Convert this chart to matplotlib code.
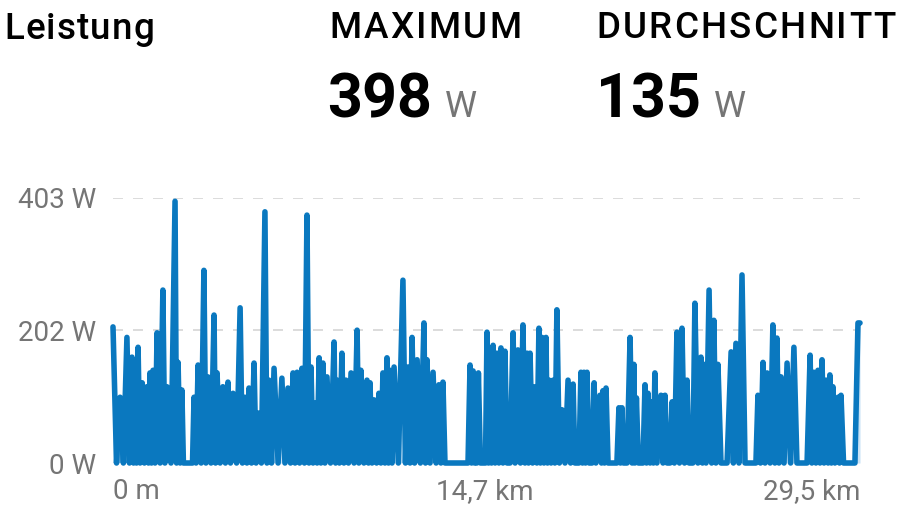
import matplotlib
matplotlib.use("Agg")
import matplotlib.pyplot as plt
from matplotlib.font_manager import FontProperties

# distance along the ride (km) and power (W)
dist_km = [
    0.00, 0.14, 0.28, 0.41, 0.55, 0.65, 0.75, 0.81, 0.87, 0.93, 0.99, 1.07, 1.15, 1.24,
    1.34, 1.40, 1.46, 1.52, 1.58, 1.66, 1.74, 1.86, 1.97, 2.05, 2.13, 2.29, 2.45, 2.51,
    2.57, 2.65, 2.72, 2.78, 3.14, 3.20, 3.28, 3.36, 3.48, 3.59, 3.67, 3.75, 3.87, 3.99,
    4.05, 4.11, 4.23, 4.34, 4.44, 4.54, 4.64, 4.74, 4.88, 5.02, 5.11, 5.21, 5.29, 5.37,
    5.47, 5.57, 5.65, 5.73, 5.86, 6.00, 6.08, 6.16, 6.26, 6.36, 6.52,
    6.67, 6.79, 6.91, 7.01, 7.11, 7.19, 7.27, 7.37, 7.46, 7.56, 7.66, 7.74, 7.82, 7.90,
    7.98, 8.06, 8.14, 8.21, 8.29, 8.37, 8.45, 8.59, 8.73, 8.79, 8.85, 8.94, 9.04, 9.12,
    9.20, 9.30, 9.40, 9.52, 9.64, 9.71, 9.79, 9.91, 10.03, 10.09, 10.15, 10.23, 10.31,
    10.41, 10.50, 10.58, 10.66, 10.74, 10.82, 10.88, 10.94, 11.02, 11.10, 11.27, 11.45,
    11.55, 11.65, 11.73, 11.81, 11.91, 12.01, 12.14, 12.28, 12.34, 12.40, 12.52, 12.64,
    12.76, 12.87, 12.95, 13.03, 13.11, 14.02,
    14.10, 14.16, 14.22, 14.28, 14.34, 14.37, 14.43, 14.51, 14.71, 14.77, 14.83, 14.89,
    14.95, 15.01, 15.09, 15.16, 15.24, 15.32, 15.40, 15.48, 15.56, 15.68, 15.80, 15.88,
    15.99, 16.09, 16.19, 16.27, 16.35, 16.41, 16.47, 16.57, 16.67, 16.74, 16.82, 16.88,
    16.94, 17.02, 17.10, 17.16, 17.22, 17.30, 17.38, 17.45, 17.53, 17.63, 17.73, 17.85,
    17.97, 18.07, 18.17, 18.24, 18.40, 18.48, 18.54, 18.60, 18.66, 18.72, 18.80, 18.92,
    19.00, 19.07, 19.23, 19.29, 19.35, 19.41, 19.47, 19.55, 19.90, 19.98, 20.04, 20.10,
    20.16, 20.30, 20.42, 20.50, 20.57, 20.61, 20.67, 20.75, 20.93, 21.01, 21.07, 21.13,
    21.21,
    21.29, 21.34, 21.40, 21.48, 21.64, 21.72, 21.80, 21.88, 22.00, 22.08, 22.17, 22.27,
    22.37, 22.47, 22.57, 22.67, 22.75, 22.90, 22.98, 23.10, 23.22, 23.28, 23.34, 23.42,
    23.54, 23.64, 23.73, 23.81, 23.89, 24.01, 24.25, 24.41, 24.50, 24.60, 24.72, 24.84,
    24.96, 25.39, 25.47, 25.57, 25.67, 25.75, 25.83, 25.95, 26.06, 26.14, 26.22, 26.30,
    26.38, 26.50, 26.62, 26.76, 26.89, 27.01, 27.41, 27.53, 27.60, 27.68, 27.76, 27.84,
    27.92, 28.00, 28.08, 28.16, 28.24, 28.31, 28.37, 28.43, 28.51, 28.63, 28.69, 28.75,
    28.85, 29.30, 29.42, 29.50,
]
power_w = [
    207, 0, 100, 0, 191, 0, 161, 0, 146, 0, 176, 0, 122, 0,
    116, 0, 137, 0, 141, 0, 198, 0, 263, 0, 116, 0, 398, 0,
    153, 0, 111, 0, 0, 100, 0, 149, 0, 293, 0, 131, 0, 225,
    0, 137, 0, 116, 0, 123, 0, 106, 0, 236, 0, 100, 0, 114,
    0, 152, 0, 76, 0, 382, 0, 126, 0, 144, 0,
    129, 0, 114, 0, 137, 0, 138, 0, 144, 0, 377, 0, 146, 0,
    91, 0, 160, 0, 152, 0, 131, 0, 184, 0, 126, 0, 167, 0,
    126, 0, 137, 0, 202, 0, 141, 0, 126, 0, 122, 0, 96,
    0, 106, 0, 137, 0, 160, 0, 141, 0, 146, 0, 278,
    0, 146, 0, 191, 0, 157, 0, 213, 0, 157, 0, 138,
    0, 119, 0, 123, 0, 0,
    149, 0, 140, 0, 122, 0, 137, 0, 0, 199, 0, 167,
    0, 179, 0, 167, 0, 175, 0, 170, 0, 0, 198, 0,
    172, 0, 210, 0, 167, 0, 167, 0, 116, 0, 205, 0,
    191, 0, 191, 0, 126, 0, 126, 0, 233, 0, 81, 0,
    126, 0, 120, 0, 0, 138, 0, 138, 0, 138, 0, 0,
    122, 0, 103, 0, 110, 0, 114, 0, 0, 84, 0, 84,
    0, 0, 191, 0, 150, 0, 99, 0, 0, 119, 0, 106,
    0,
    93, 0, 137, 0, 103, 0, 103, 0, 0, 93, 0, 199,
    0, 205, 0, 126, 0, 0, 243, 0, 161, 0, 150, 0,
    263, 0, 217, 0, 150, 0, 0, 169, 0, 182, 0, 286,
    0, 0, 103, 0, 153, 0, 137, 0, 210, 0, 190, 0,
    131, 0, 152, 0, 176, 0, 0, 164, 0, 138, 0, 141,
    0, 157, 0, 126, 0, 134, 0, 116, 0, 100, 0, 103,
    0, 0, 213, 213,
]

y_ticks = [0, 202, 403]
y_labels = ["0 W", "202 W", "403 W"]
x_ticks = [0, 14.7, 29.5]
x_labels = ["0 m", "14,7 km", "29,5 km"]

W, H = 912, 511
plt.rcParams['font.family'] = ['Roboto', 'DejaVu Sans']

fig = plt.figure(figsize=(W / 100, H / 100), dpi=100)
ax = fig.add_axes([113 / W, 1 - 463 / H, (860 - 113) / W, (463 - 198) / H])

line_col = "#0a78bf"
ax.fill_between(dist_km, power_w, 0, color="#c9e3f6", lw=0, zorder=1)
ax.plot(dist_km, power_w, color=line_col, lw=4, solid_joinstyle="round",
        solid_capstyle="round", zorder=3, clip_on=False)

ax.set_xlim(0, 29.5)
ax.set_ylim(0, 403)
for v in y_ticks[1:]:
    ax.axhline(v, color="#d6d6d6", lw=1.2, ls=(0, (6, 6)), zorder=0)
ax.axhline(0, color="#cfe4f4", lw=1.2, zorder=0)

ax.set_yticks(y_ticks, y_labels)
ax.set_xticks(x_ticks, x_labels)
ax.tick_params(length=0, labelsize=20, labelcolor="#757575")
ax.tick_params(axis="y", pad=12)
ax.tick_params(axis="x", pad=11)
xl = ax.get_xticklabels()
xl[0].set_ha("left")
xl[-1].set_ha("right")
for s in ax.spines.values():
    s.set_visible(False)

renderer = fig.canvas.get_renderer()

def ftext(x, y, s, **kw):
    fig.text(x / W, 1 - y / H, s, va="baseline", **kw)

# header text is letter-spaced, so place it character by character
def spaced(x, y, s, size, spacing, color="black"):
    prop = FontProperties(family=['Roboto', 'DejaVu Sans'], size=size, weight="medium")
    for i, ch in enumerate(s):
        adv = renderer.get_text_width_height_descent(s[:i], prop, ismath=False)[0] if i else 0
        fig.text((x + adv + i * spacing) / W, 1 - y / H, ch, va="baseline",
                 fontproperties=prop, color=color)

spaced(4, 39, "Leistung", 26.5, 1.2)
spaced(329, 38, "MAXIMUM", 26.5, 2.3)
spaced(596, 38, "DURCHSCHNITT", 26.5, 2.3)
ftext(327, 117, "398", fontsize=44, fontweight="bold", color="black")
ftext(445, 117, "W", fontsize=26, color="#757575")
ftext(596, 117, "135", fontsize=44, fontweight="bold", color="black")
ftext(714, 117, "W", fontsize=26, color="#757575")

fig.savefig("out.png", dpi=100)
